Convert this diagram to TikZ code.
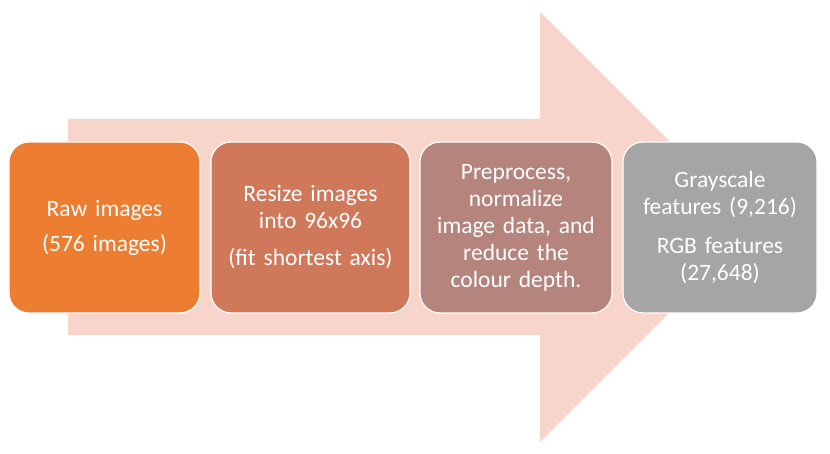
\documentclass[tikz,border=0pt]{standalone}
\usepackage{fontspec}
\setmainfont{Carlito}
\definecolor{arrowpink}{HTML}{F7D5CA}
\definecolor{boxA}{HTML}{ED7D31}
\definecolor{boxB}{HTML}{D0785A}
\definecolor{boxC}{HTML}{B5847D}
\definecolor{boxD}{HTML}{A5A5A5}
\tikzset{
  stagebox/.style={rectangle, rounded corners=20bp, draw=white, line width=1.2bp,
    minimum height=171bp, text=white, align=center, inner sep=0pt,
    font=\fontsize{23.5bp}{27bp}\selectfont}
}
\begin{document}
\begin{tikzpicture}[x=1bp,y=-1bp]
\useasboundingbox (0,0) rectangle (830,454);
\fill[arrowpink] (68,119) -- (540,119) -- (540,12) -- (755,227) -- (540,442) -- (540,335) -- (68,335) -- cycle;
\node[stagebox, fill=boxA, minimum width=191bp, text width=185bp] (b1) at (104.5,227.5)
  {Raw images\\[8bp](576 images)};
\node[stagebox, fill=boxB, minimum width=199bp, text width=192bp] (b2) at (310.5,227.5)
  {Resize images\\into 96x96\\[10bp](fit shortest axis)};
\node[stagebox, fill=boxC, minimum width=192bp, text width=186bp] (b3) at (516,227.5)
  {Preprocess,\\normalize\\image data, and\\reduce the\\colour depth.};
\node[stagebox, fill=boxD, minimum width=194bp, text width=190bp] (b4) at (720,227.5)
  {Grayscale\\features (9,216)\\[12bp]RGB features\\(27,648)};
\end{tikzpicture}
\end{document}
